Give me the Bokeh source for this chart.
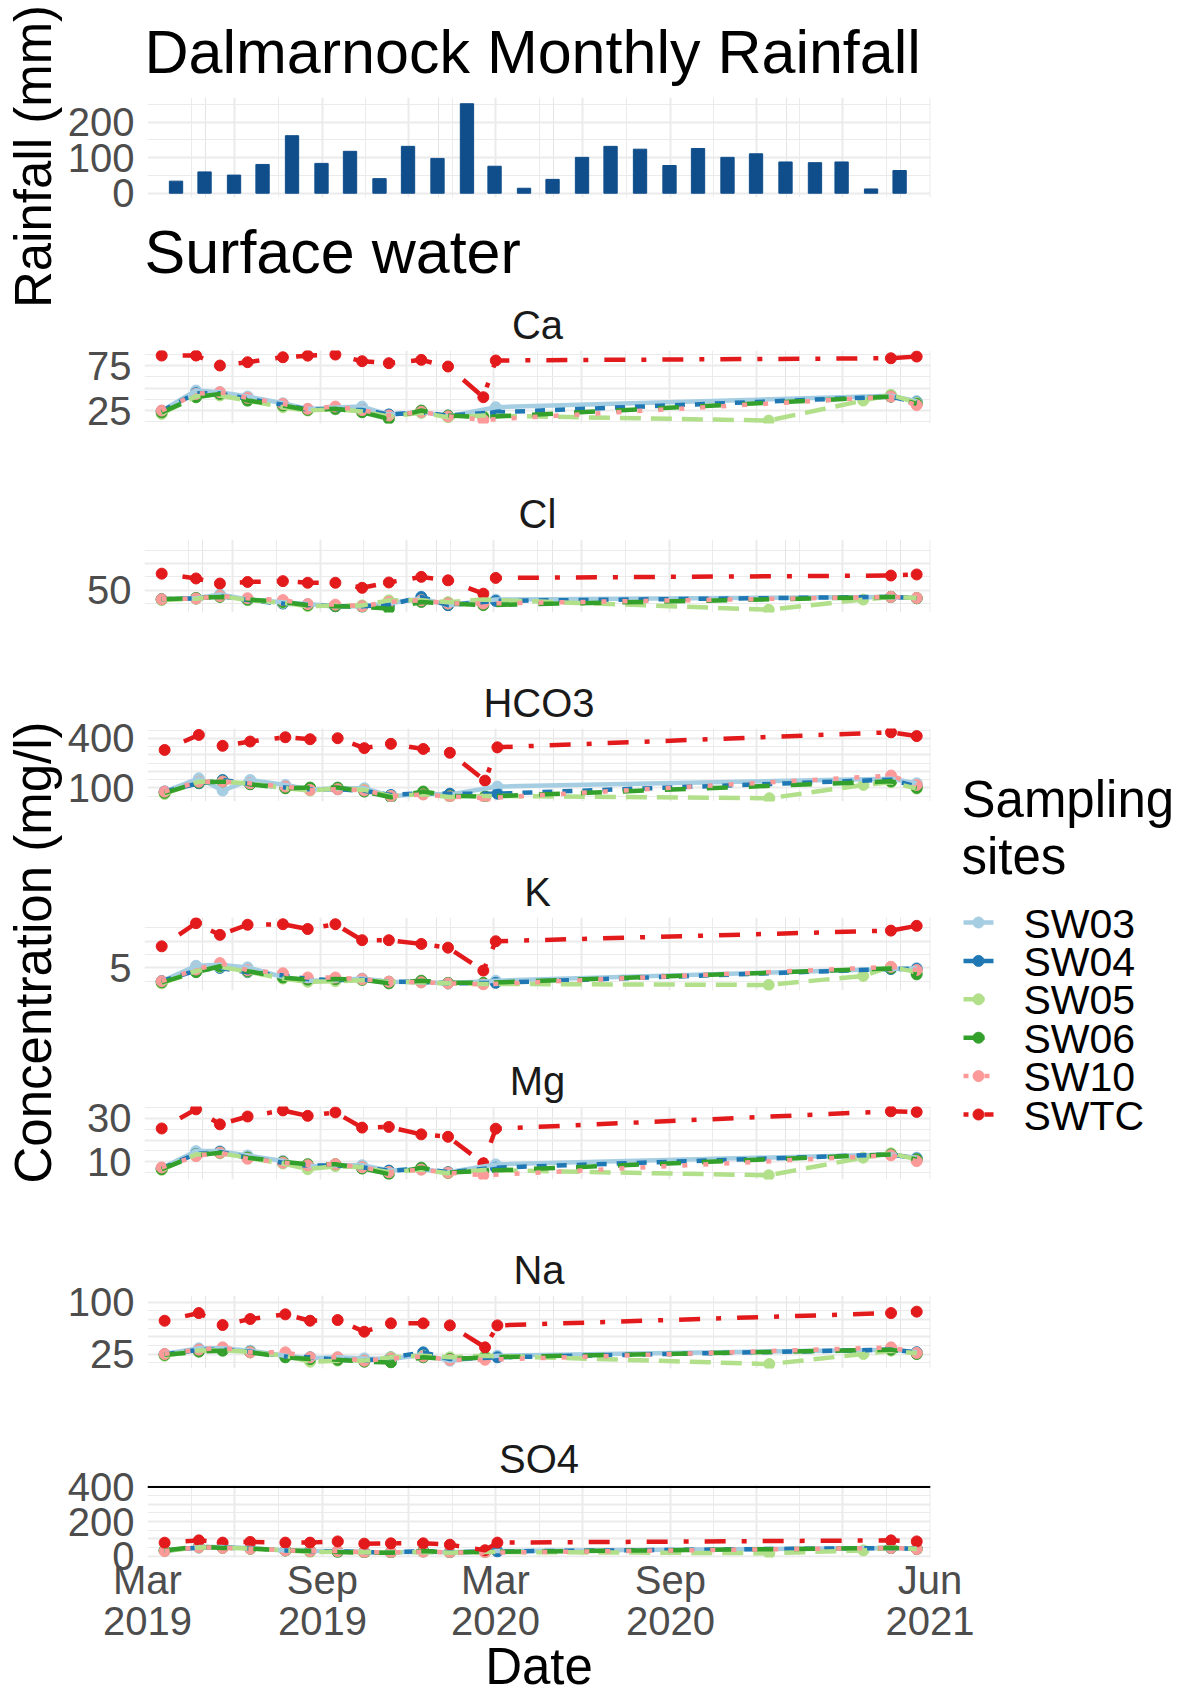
import pandas as pd
from math import pi
from bokeh.plotting import figure
from bokeh.models import (Range1d, FixedTicker, Grid, DatetimeAxis, DatetimeTickFormatter,
                          ColumnDataSource, Span, Spacer)
from bokeh.layouts import column, row
from bokeh.embed import file_html
from bokeh.resources import INLINE
from bokeh.core.properties import value

# ---------------------------------------------------------------- data
rain_months = ["2019-03", "2019-04", "2019-05", "2019-06", "2019-07", "2019-08", "2019-09",
               "2019-10", "2019-11", "2019-12", "2020-01", "2020-02", "2020-03", "2020-04",
               "2020-05", "2020-06", "2020-07", "2020-08", "2020-09", "2020-10", "2020-11",
               "2020-12", "2021-01", "2021-02", "2021-03", "2021-04"]
rain_mm = [34, 60, 51, 81, 162, 84, 118, 41, 132, 98, 252, 76, 14, 39,
           101, 132, 124, 78, 126, 101, 111, 88, 86, 88, 12, 64]

sites = ["SW03", "SW04", "SW05", "SW06", "SW10", "SWTC"]

dates_sw03 = ["2019-03-19", "2019-04-24", "2019-05-19", "2019-06-17", "2019-07-24", "2019-08-19",
              "2019-09-17", "2019-10-15", "2019-11-12", "2019-12-16", "2020-01-13", "2020-03-03",
              "2021-04-21", "2021-05-18"]
dates_sw04 = list(dates_sw03)
dates_sw05 = ["2019-03-19", "2019-04-24", "2019-05-19", "2019-06-17", "2019-07-24", "2019-08-19",
              "2019-09-17", "2019-10-15", "2019-11-12", "2019-12-16", "2020-01-13", "2020-02-19",
              "2020-12-14", "2021-03-23", "2021-04-21", "2021-05-18"]
dates_sw06 = ["2019-03-19", "2019-04-24", "2019-05-19", "2019-06-17", "2019-07-24", "2019-08-19",
              "2019-09-17", "2019-10-15", "2019-11-12", "2019-12-16", "2020-01-13", "2020-02-19",
              "2021-04-21", "2021-05-18"]
dates_sw10 = list(dates_sw06)
dates_swtc = ["2019-03-19", "2019-04-24", "2019-05-19", "2019-06-17", "2019-07-24", "2019-08-19",
              "2019-09-17", "2019-10-15", "2019-11-12", "2019-12-16", "2020-01-13", "2020-02-19",
              "2020-03-03", "2021-04-21", "2021-05-18"]
site_dates = {"SW03": dates_sw03, "SW04": dates_sw04, "SW05": dates_sw05,
              "SW06": dates_sw06, "SW10": dates_sw10, "SWTC": dates_swtc}

ca = {"SW03": [24.5, 47.2, 45.4, 40.6, 33.1, 26.8, 28.5, 29.4, 20.5, 23.5, 18.5, 28.7, 41.5, 35.5],
      "SW04": [24.5, 44.3, 44.0, 38.0, 31.5, 26.0, 26.5, 25.5, 20.6, 23.0, 19.4, 23.0, 40.5, 34.0],
      "SW05": [21.3, 41.0, 41.7, 36.1, 28.7, 25.0, 26.5, 24.0, 18.5, 22.5, 17.6, 19.4, 13.9, 36.1, 42.4, 33.5],
      "SW06": [23.0, 39.8, 43.5, 36.1, 30.6, 25.7, 26.9, 23.1, 15.8, 25.0, 19.4, 17.6, 40.5, 32.4],
      "SW10": [25.0, 43.5, 45.4, 39.1, 32.4, 26.9, 29.4, 25.5, 19.5, 23.5, 18.5, 14.6, 40.5, 31.0],
      "SWTC": [86.1, 86.1, 75.0, 78.7, 84.2, 86.0, 87.2, 79.8, 77.6, 81.3, 73.9, 39.8, 80.6, 83.1, 85.0]}
cl = {"SW03": [46.6, 47.0, 48.4, 46.5, 45.5, 44.8, 44.0, 44.0, 45.0, 46.9, 44.4, 46.5, 47.5, 47.1],
      "SW04": [46.6, 46.9, 47.8, 46.3, 45.0, 44.5, 44.0, 44.0, 44.5, 47.5, 44.4, 46.0, 47.5, 47.0],
      "SW05": [46.3, 46.8, 47.8, 46.3, 45.3, 44.0, 44.3, 44.3, 46.2, 46.2, 45.5, 46.5, 42.7, 46.5, 47.5, 47.1],
      "SW06": [46.6, 47.1, 47.5, 46.5, 45.6, 44.4, 44.0, 43.8, 43.1, 45.6, 45.0, 44.4, 47.5, 47.0],
      "SW10": [46.6, 46.9, 47.8, 47.0, 46.3, 44.8, 44.6, 44.0, 45.6, 46.2, 45.0, 45.0, 47.5, 47.1],
      "SWTC": [56.2, 54.4, 52.5, 53.1, 53.4, 52.8, 52.8, 50.9, 52.9, 55.0, 53.7, 48.7, 54.6, 55.5, 55.9]}
hco3 = {"SW03": [77.6, 158, 84, 148, 118, 90, 98, 98, 50, 64, 60, 108, 155, 128],
        "SW04": [77.6, 128, 148, 124, 103, 92, 92, 82, 57, 68, 65, 65, 150, 108],
        "SW05": [63, 138, 138, 126, 98, 84, 98, 88, 50, 62, 45, 51.5, 37.5, 118, 134, 96],
        "SW06": [70, 132, 138, 122, 98, 102, 102, 78, 43, 78, 52, 47.5, 140, 100],
        "SW10": [77.6, 138, 138, 128, 108, 88, 92, 85, 50, 60, 48, 37.5, 175, 118],
        "SWTC": [330, 421, 355, 381, 407, 395, 401, 341, 367, 336, 313, 144, 346, 437, 414]}
k = {"SW03": [2.5, 5.4, 5.6, 5.1, 3.3, 2.6, 2.7, 3.0, 2.4, 2.3, 2.1, 2.6, 4.8, 5.0],
     "SW04": [2.5, 4.5, 5.0, 4.2, 3.6, 2.9, 2.7, 2.8, 2.4, 2.4, 2.1, 2.2, 4.8, 4.8],
     "SW05": [2.1, 4.4, 5.2, 4.3, 3.0, 2.4, 2.5, 2.7, 2.4, 2.3, 2.1, 2.0, 1.8, 3.5, 5.2, 4.2],
     "SW06": [2.3, 4.2, 5.3, 4.4, 3.2, 2.8, 2.9, 2.8, 2.1, 2.6, 2.2, 2.2, 4.9, 3.8],
     "SW10": [2.5, 4.7, 5.9, 4.6, 4.0, 3.2, 3.2, 2.9, 2.4, 2.3, 2.1, 1.9, 5.2, 4.6],
     "SWTC": [9.05, 13.4, 11.2, 13.1, 13.2, 12.3, 13.2, 10.2, 10.2, 9.5, 8.8, 4.5, 10.0, 12.0, 12.9]}
mg = {"SW03": [7.0, 14.9, 14.9, 12.9, 10.4, 8.0, 8.4, 8.4, 6.0, 6.6, 5.2, 8.8, 13.4, 11.9],
      "SW04": [7.0, 13.6, 14.5, 11.9, 9.6, 8.2, 8.4, 7.5, 5.9, 6.9, 5.2, 7.3, 13.4, 11.5],
      "SW05": [6.3, 13.4, 13.9, 11.9, 9.2, 6.6, 8.0, 7.5, 5.2, 6.5, 4.7, 6.2, 3.8, 11.9, 13.9, 11.1],
      "SW06": [6.6, 12.9, 14.2, 11.9, 10.0, 8.9, 8.9, 6.9, 4.4, 7.3, 5.0, 5.8, 13.4, 11.1],
      "SW10": [7.4, 12.6, 14.2, 11.4, 9.6, 8.4, 8.9, 7.5, 5.2, 6.4, 5.0, 3.8, 13.0, 10.3],
      "SWTC": [25.3, 34.1, 27.2, 30.8, 33.6, 31.1, 32.7, 25.7, 26.0, 22.6, 21.5, 9.3, 25.2, 33.2, 32.9]}
na = {"SW03": [25.0, 33.2, 33.2, 29.8, 22.6, 19.0, 20.2, 18.7, 17.7, 23.8, 15.3, 22.6, 31.3, 27.4],
      "SW04": [24.5, 31.0, 31.3, 28.4, 21.5, 20.2, 16.7, 15.3, 20.2, 27.4, 17.7, 20.2, 31.3, 27.4],
      "SW05": [22.6, 30.0, 30.5, 28.0, 22.6, 13.9, 15.3, 15.5, 20.2, 22.6, 20.2, 22.6, 10.5, 25.0, 29.8, 26.0],
      "SW06": [23.8, 28.4, 29.8, 27.4, 20.2, 17.7, 16.7, 13.9, 12.9, 20.2, 17.7, 20.2, 31.3, 25.0],
      "SW10": [25.0, 31.3, 34.6, 27.4, 27.4, 20.2, 20.2, 15.3, 18.7, 21.5, 16.5, 16.7, 34.6, 26.5],
      "SWTC": [73.0, 84.1, 66.8, 75.5, 82.2, 73.0, 74.0, 57.2, 69.2, 69.2, 66.3, 34.6, 66.3, 84.1, 86.1]}
so4 = {"SW03": [31, 52, 52, 47, 33, 29, 29, 23.7, 22, 25, 22, 29, 47, 43],
       "SW04": [31, 50, 50, 44, 33, 29, 27, 23.7, 22, 29, 22, 27, 47, 42],
       "SW05": [29, 50, 49, 43, 33, 23.7, 25, 22, 21, 24, 20, 24, 16.7, 33, 50, 41],
       "SW06": [33, 56, 47, 43, 33, 29, 23.7, 20, 20, 29, 21, 24, 47, 41],
       "SW10": [29, 52, 47, 43, 33, 29, 29, 22, 22, 25, 22, 20, 47, 41],
       "SWTC": [77.6, 91, 78, 82, 78, 78, 85, 72, 74, 74, 66, 34, 78, 91, 85]}
so4_guideline = 400

x_label_dates = ["2019-03-01", "2019-09-01", "2020-03-01", "2020-09-01", "2021-06-01"]

# ---------------------------------------------------------------- style
FONT = "Liberation Sans"
site_colors = ["#A6CEE3", "#1F78B4", "#B2DF8A", "#33A02C", "#FB9A99", "#E31A1C"]
site_dashes = ["solid", "10 10", "21 10", "21 21", "5 16", "5 16 21 16"]
LW, PS = 4.5, 11
GRID = "#EBEBEB"
TICK_COL = "#4D4D4D"
TICK_FS = "40px"

X0 = pd.Timestamp("2019-03-01")
X1 = pd.Timestamp("2021-06-01 12:00")
STACK_X = 64
LEFT_B = 80
FRAME_W = 786
FRAME_H = 73
TOP_B = 60
FACET_H = 189
SO4_H = 274


def ms(d):
    return pd.Timestamp(d).value / 1e6


q_major = [ms(d) for d in pd.date_range("2019-03-01", "2021-06-01", freq="3MS")]
q_minor = [(a + b) / 2 for a, b in zip(q_major[:-1], q_major[1:])]
x_label_ms = [ms(d) for d in x_label_dates]


def canvas(x0, x1, y0, y1):
    p = figure(width=x1 - x0, height=y1 - y0, x_range=Range1d(x0, x1), y_range=Range1d(-y1, -y0),
               x_axis_location=None, y_axis_location=None, toolbar_location=None,
               output_backend="svg", min_border=0, frame_align=False)
    p.grid.visible = False
    p.outline_line_color = None
    return p


def style_yaxis(p, lab_ticks, g_major, g_minor):
    ax = p.yaxis[0]
    ax.ticker = FixedTicker(ticks=lab_ticks)
    ax.major_label_text_font = FONT
    ax.major_label_text_font_size = TICK_FS
    ax.major_label_text_color = TICK_COL
    ax.axis_line_color = None
    ax.major_tick_line_color = None
    ax.minor_tick_line_color = None
    ax.major_tick_out = 0
    ax.major_tick_in = 0
    ax.major_label_standoff = 13
    p.ygrid.ticker = FixedTicker(ticks=g_major, minor_ticks=g_minor)
    p.ygrid.grid_line_color = GRID
    p.ygrid.grid_line_width = 2
    p.ygrid.minor_grid_line_color = GRID
    p.ygrid.minor_grid_line_width = 1


def add_vgrid(p):
    p.add_layout(Grid(dimension=0, ticker=FixedTicker(ticks=q_major, minor_ticks=q_minor),
                      grid_line_color=GRID, grid_line_width=2,
                      minor_grid_line_color=GRID, minor_grid_line_width=1))


def fmt(f):
    return DatetimeTickFormatter(microseconds=f, milliseconds=f, seconds=f, minsec=f, minutes=f,
                                 hourmin=f, hours=f, days=f, months=f, years=f)


def facet(name, data, yr, lab_ticks, g_major, g_minor, height, right, bottom=False, hline=None):
    p = figure(title=name, width=LEFT_B + FRAME_W + right, height=height,
               x_range=Range1d(X0, X1), y_range=Range1d(*yr), x_axis_type="datetime",
               x_axis_location="below" if bottom else None,
               toolbar_location=None, output_backend="svg", frame_align=False,
               min_border_left=LEFT_B, min_border_right=right, min_border_top=TOP_B,
               min_border_bottom=height - TOP_B - FRAME_H)
    p.outline_line_color = None
    p.title.align = "center"
    p.title.text_font = FONT
    p.title.text_font_size = "40px"
    p.title.text_font_style = "normal"
    p.title.text_color = "#1A1A1A"
    p.title.standoff = 7
    style_yaxis(p, lab_ticks, g_major, g_minor)
    if bottom:
        p.xgrid.ticker = FixedTicker(ticks=q_major, minor_ticks=q_minor)
        p.xgrid.grid_line_color = GRID
        p.xgrid.grid_line_width = 2
        p.xgrid.minor_grid_line_color = GRID
        p.xgrid.minor_grid_line_width = 1
        ax1 = p.xaxis[0]
        ax2 = DatetimeAxis()
        p.add_layout(ax2, "below")
        for ax, f in ((ax1, "%b"), (ax2, "%Y")):
            ax.ticker = FixedTicker(ticks=x_label_ms)
            ax.formatter = fmt(f)
            ax.major_label_text_font = FONT
            ax.major_label_text_font_size = TICK_FS
            ax.major_label_text_color = TICK_COL
            ax.axis_line_color = None
            ax.major_tick_line_color = None
            ax.minor_tick_line_color = None
            ax.major_tick_out = 0
            ax.major_tick_in = 0
        ax1.major_label_standoff = 0
        ax2.major_label_standoff = 2
        ax2.axis_label = "Date"
        ax2.axis_label_text_font = FONT
        ax2.axis_label_text_font_size = "51px"
        ax2.axis_label_text_font_style = "normal"
        ax2.axis_label_text_color = "black"
        ax2.axis_label_standoff = 0
    else:
        add_vgrid(p)
    if hline is not None:
        p.add_layout(Span(location=hline, dimension="width", line_color="black", line_width=2))
    srcs = []
    for s in sites:
        srcs.append(ColumnDataSource(dict(x=pd.to_datetime(site_dates[s]), y=data[s])))
    for s, src, c in zip(sites, srcs, site_colors):
        p.scatter("x", "y", source=src, size=PS, color=c)
    for s, src, c, d in zip(sites, srcs, site_colors, site_dashes):
        p.line("x", "y", source=src, line_color=c, line_width=LW, line_dash=d)
    return p


# ---------------------------------------------------------------- figures
# page coordinates: origin at the top-left of the window
TEXT_X = STACK_X + LEFT_B
head = canvas(STACK_X, 945, 0, 90)
head.text(x=[TEXT_X], y=[-51], text=["Dalmarnock Monthly Rainfall"], text_font=value(FONT),
          text_font_size=value("61px"), text_baseline="middle", text_align="left", text_color="black")

rain = figure(width=LEFT_B + FRAME_W + 14, height=126, x_range=Range1d(X0, X1),
              y_range=Range1d(-12.1, 269.6), x_axis_type="datetime", x_axis_location=None,
              toolbar_location=None, output_backend="svg", frame_align=False,
              min_border_left=LEFT_B, min_border_right=14, min_border_top=7, min_border_bottom=19)
rain.outline_line_color = None
style_yaxis(rain, [0, 100, 200], [0, 100, 200], [50, 150, 250])
add_vgrid(rain)
rain_x = [pd.Period(m, "M").end_time.normalize() for m in rain_months]
rain.vbar(x="x", top="top", width=14 * 86400000, color="#104E8B",
          source=ColumnDataSource(dict(x=rain_x, top=rain_mm)))

sw = canvas(STACK_X, 945, 216, 290)
sw.text(x=[TEXT_X], y=[-251], text=["Surface water"], text_font=value(FONT),
        text_font_size=value("61px"), text_baseline="middle", text_align="left", text_color="black")

f_ca = facet("Ca", ca, (10.6, 91.7), [25, 75], [25, 50, 75], [12.5, 37.5, 62.5, 87.5], FACET_H, 14)
f_cl = facet("Cl", cl, (41.65, 69.0), [50], [50, 60], [45, 55, 65], FACET_H, 14)
f_hco3 = facet("HCO3", hco3, (17.6, 460), [100, 400], [100, 200, 300, 400],
               [50, 150, 250, 350, 450], FACET_H, 14)
f_k = facet("K", k, (0.76, 14.46), [5], [5, 10], [2.5, 7.5, 12.5], FACET_H, 14)
f_mg = facet("Mg", mg, (1.86, 35.4), [10, 30], [10, 20, 30], [5, 15, 25, 35], FACET_H, 14)
f_na = facet("Na", na, (4.1, 109.4), [25, 100], [25, 50, 75, 100], [12.5, 37.5, 62.5, 87.5], FACET_H, 59)
f_so4 = facet("SO4", so4, (-8, 414), [0, 200, 400], [0, 100, 200, 300, 400], [50, 150, 250, 350],
              SO4_H, 59, bottom=True, hline=so4_guideline)

TOP_H = 290 + 5 * FACET_H   # 1235

# left rotated axis titles
left = canvas(0, STACK_X, 0, TOP_H)
left.text(x=[33, 33], y=[-156, -952], text=["Rainfall (mm)", "Concentration (mg/l)"],
          angle=pi / 2, text_font=value(FONT), text_font_size=value("51px"),
          text_align="center", text_baseline="middle", text_color="black")

# legend
leg = canvas(945, 1178, 0, TOP_H)
leg.text(x=[961, 961], y=[-799, -856], text=["Sampling", "sites"], text_font=value(FONT),
         text_font_size=value("51px"), text_align="left", text_baseline="middle", text_color="black")
KEY_Y0, KEY_DY = 922, 38.4
for i, (s, c, d) in enumerate(zip(sites, site_colors, site_dashes)):
    ky = -(KEY_Y0 + KEY_DY * i)
    leg.segment(x0=[963], y0=[ky], x1=[993], y1=[ky], line_color=c, line_width=LW, line_dash=d)
    leg.scatter(x=[978], y=[ky], size=PS, color=c)
    leg.text(x=[1023], y=[ky - 1], text=[s], text_font=value(FONT), text_font_size=value("41px"),
             text_align="left", text_baseline="middle", text_color="black")

stack_top = column(head, rain, sw, f_ca, f_cl, f_hco3, f_k, f_mg)
top_row = row(left, stack_top, leg)
bottom_row = row(Spacer(width=STACK_X, height=FACET_H + SO4_H), column(f_na, f_so4))
layout = column(top_row, bottom_row)

open("out.html", "w").write(file_html(layout, INLINE, title="Dalmarnock surface water"))
